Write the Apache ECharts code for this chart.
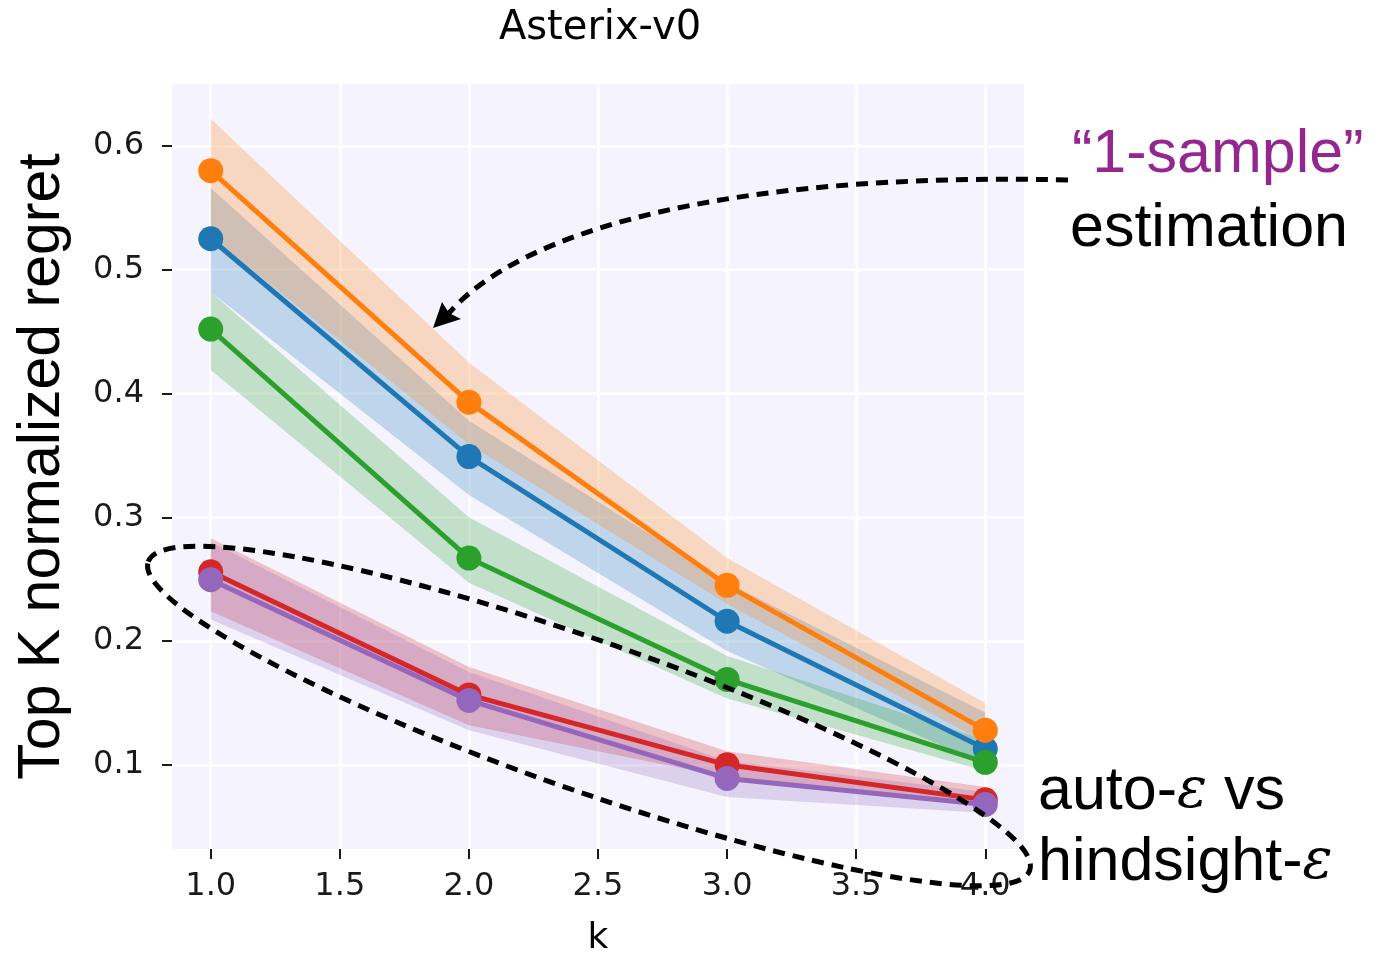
<!DOCTYPE html>
<html>
<head>
<meta charset="utf-8">
<title>Asterix-v0</title>
<script src="https://cdn.jsdelivr.net/npm/echarts@6/dist/echarts.min.js"></script>
<style>
  html, body { margin: 0; padding: 0; background: #fff; }
  #chart { width: 1378px; height: 962px; }
</style>
</head>
<body>
<div id="chart"></div>
<script>
  // values
  const kValues = [1, 2, 3, 4];
  const xTicks = [1.0, 1.5, 2.0, 2.5, 3.0, 3.5, 4.0];
  const yTicks = [0.1, 0.2, 0.3, 0.4, 0.5, 0.6];

  const blueMean = [0.525, 0.349, 0.216, 0.113];
  const blueLow = [0.482, 0.318, 0.192, 0.100];
  const blueHigh = [0.566, 0.378, 0.247, 0.142];

  const orangeMean = [0.580, 0.393, 0.245, 0.128];
  const orangeLow = [0.527, 0.359, 0.230, 0.118];
  const orangeHigh = [0.622, 0.425, 0.267, 0.150];

  const greenMean = [0.452, 0.267, 0.169, 0.102];
  const greenLow = [0.419, 0.247, 0.1535, 0.095];
  const greenHigh = [0.482, 0.300, 0.188, 0.120];

  const redMean = [0.256, 0.1565, 0.100, 0.0717];
  const redLow = [0.224, 0.132, 0.090, 0.066];
  const redHigh = [0.283, 0.179, 0.111, 0.082];

  const purpleMean = [0.2496, 0.152, 0.089, 0.068];
  const purpleLow = [0.2175, 0.128, 0.074, 0.061];
  const purpleHigh = [0.280, 0.175, 0.103, 0.078];

  const chart = echarts.init(document.getElementById('chart'));

  // shaded band: one polygon through the axis scales
  function bandSeries(name, low, high, color) {
    return {
      name: name,
      type: 'custom',
      z: 1,
      silent: true,
      data: [[kValues[0], low[0]]],
      renderItem: function (params, api) {
        const pts = []
        kValues.forEach(function (k, i) { pts.push(api.coord([k, high[i]])) })
        for (let i = kValues.length - 1; i >= 0; i--) {
          pts.push(api.coord([kValues[i], low[i]]))
        }
        return {
          type: 'polygon',
          shape: { points: pts },
          style: { fill: color, opacity: 0.25 }
        }
      }
    }
  }

  function lineSeries(name, mean, color, z) {
    return {
      name: name,
      type: 'line',
      z: z,
      data: kValues.map(function (k, i) { return [k, mean[i]] }),
      symbol: 'circle',
      symbolSize: 25,
      lineStyle: { width: 5, color: color },
      itemStyle: { color: color },
      emphasis: { disabled: true }
    }
  }

  const dash = { stroke: '#000', lineWidth: 5, lineDash: [12, 8], fill: null };
  const annoFont = '"Liberation Sans", "Helvetica Neue", Arial, sans-serif';
  const eps = { fontFamily: 'DejaVu Serif', fontStyle: 'italic', fontSize: 56, fill: '#000' };

  chart.setOption({
    animation: false,
    backgroundColor: '#fff',
    title: {
      text: 'Asterix-v0',
      left: 600,
      top: 9,
      padding: 0,
      textAlign: 'center',
      textStyle: { fontSize: 40, fontWeight: 'normal', fontFamily: 'DejaVu Sans', color: '#000' }
    },
    grid: {
      left: 172, right: 354, top: 84, bottom: 108,
      show: true, backgroundColor: '#f5f4fe', borderWidth: 0
    },
    xAxis: {
      type: 'value',
      min: 0.85,
      max: 4.15,
      name: 'k',
      nameLocation: 'middle',
      nameGap: 72,
      nameTextStyle: { fontSize: 36, color: '#000', fontFamily: 'DejaVu Sans' },
      axisLine: { show: false },
      axisTick: { show: true, length: 10, lineStyle: { color: '#1a1a1a', width: 2 }, customValues: xTicks },
      axisLabel: {
        customValues: xTicks,
        formatter: function (v) { return v.toFixed(1) },
        fontSize: 32, color: '#1a1a1a', fontFamily: 'DejaVu Sans', margin: 22
      },
      splitLine: { show: true, lineStyle: { color: '#fff', width: 2.5 } }
    },
    yAxis: {
      type: 'value',
      min: 0.032,
      max: 0.65,
      name: 'Top K normalized regret',
      nameLocation: 'middle',
      nameGap: 100,
      nameTextStyle: { fontSize: 59, color: '#000', fontFamily: annoFont },
      axisLine: { show: false },
      axisTick: { show: true, length: 10, lineStyle: { color: '#1a1a1a', width: 2 }, customValues: yTicks },
      axisLabel: {
        customValues: yTicks,
        formatter: function (v) { return v.toFixed(1) },
        fontSize: 32, color: '#1a1a1a', fontFamily: 'DejaVu Sans', margin: 28
      },
      splitLine: { show: true, lineStyle: { color: '#fff', width: 2.5 } }
    },
    series: [
      bandSeries('blue band', blueLow, blueHigh, '#1f77b4'),
      bandSeries('orange band', orangeLow, orangeHigh, '#ff7f0e'),
      bandSeries('green band', greenLow, greenHigh, '#2ca02c'),
      bandSeries('red band', redLow, redHigh, '#d62728'),
      bandSeries('purple band', purpleLow, purpleHigh, '#9467bd'),
      lineSeries('blue', blueMean, '#1f77b4', 3),
      lineSeries('orange', orangeMean, '#ff7f0e', 4),
      lineSeries('green', greenMean, '#2ca02c', 5),
      lineSeries('red', redMean, '#d62728', 6),
      lineSeries('purple', purpleMean, '#9467bd', 7)
    ],
    graphic: [
      // dashed ellipse round the two low curves
      {
        type: 'ellipse', z: 100, silent: true,
        x: 589, y: 716, rotation: -19.3 * Math.PI / 180,
        shape: { cx: 0, cy: 0, rx: 467, ry: 75 },
        style: dash
      },
      // dashed arrow from the "1-sample" note
      {
        type: 'bezierCurve', z: 100, silent: true,
        shape: { x1: 1068, y1: 180, cpx1: 720, cpy1: 172, cpx2: 520, cpy2: 232, x2: 449, y2: 313 },
        style: dash
      },
      {
        type: 'polygon', z: 100, silent: true,
        shape: { points: [[433, 328], [442, 302], [449, 313], [461, 319]] },
        style: { fill: '#000' }
      },
      {
        type: 'text', z: 100, left: 1072, top: 125,
        style: { text: '\u201c1-sample\u201d', font: '61px ' + annoFont, fill: '#93278f' }
      },
      {
        type: 'text', z: 100, left: 1070, top: 199,
        style: { text: 'estimation', font: '61px ' + annoFont, fill: '#000' }
      },
      {
        type: 'text', z: 100, left: 1038, top: 762,
        style: { text: 'auto-{e|\u03b5} vs', font: '61px ' + annoFont, fill: '#000', rich: { e: eps } }
      },
      {
        type: 'text', z: 100, left: 1038, top: 833,
        style: { text: 'hindsight-{e|\u03b5}', font: '61px ' + annoFont, fill: '#000', rich: { e: eps } }
      }
    ]
  });
</script>
</body>
</html>
